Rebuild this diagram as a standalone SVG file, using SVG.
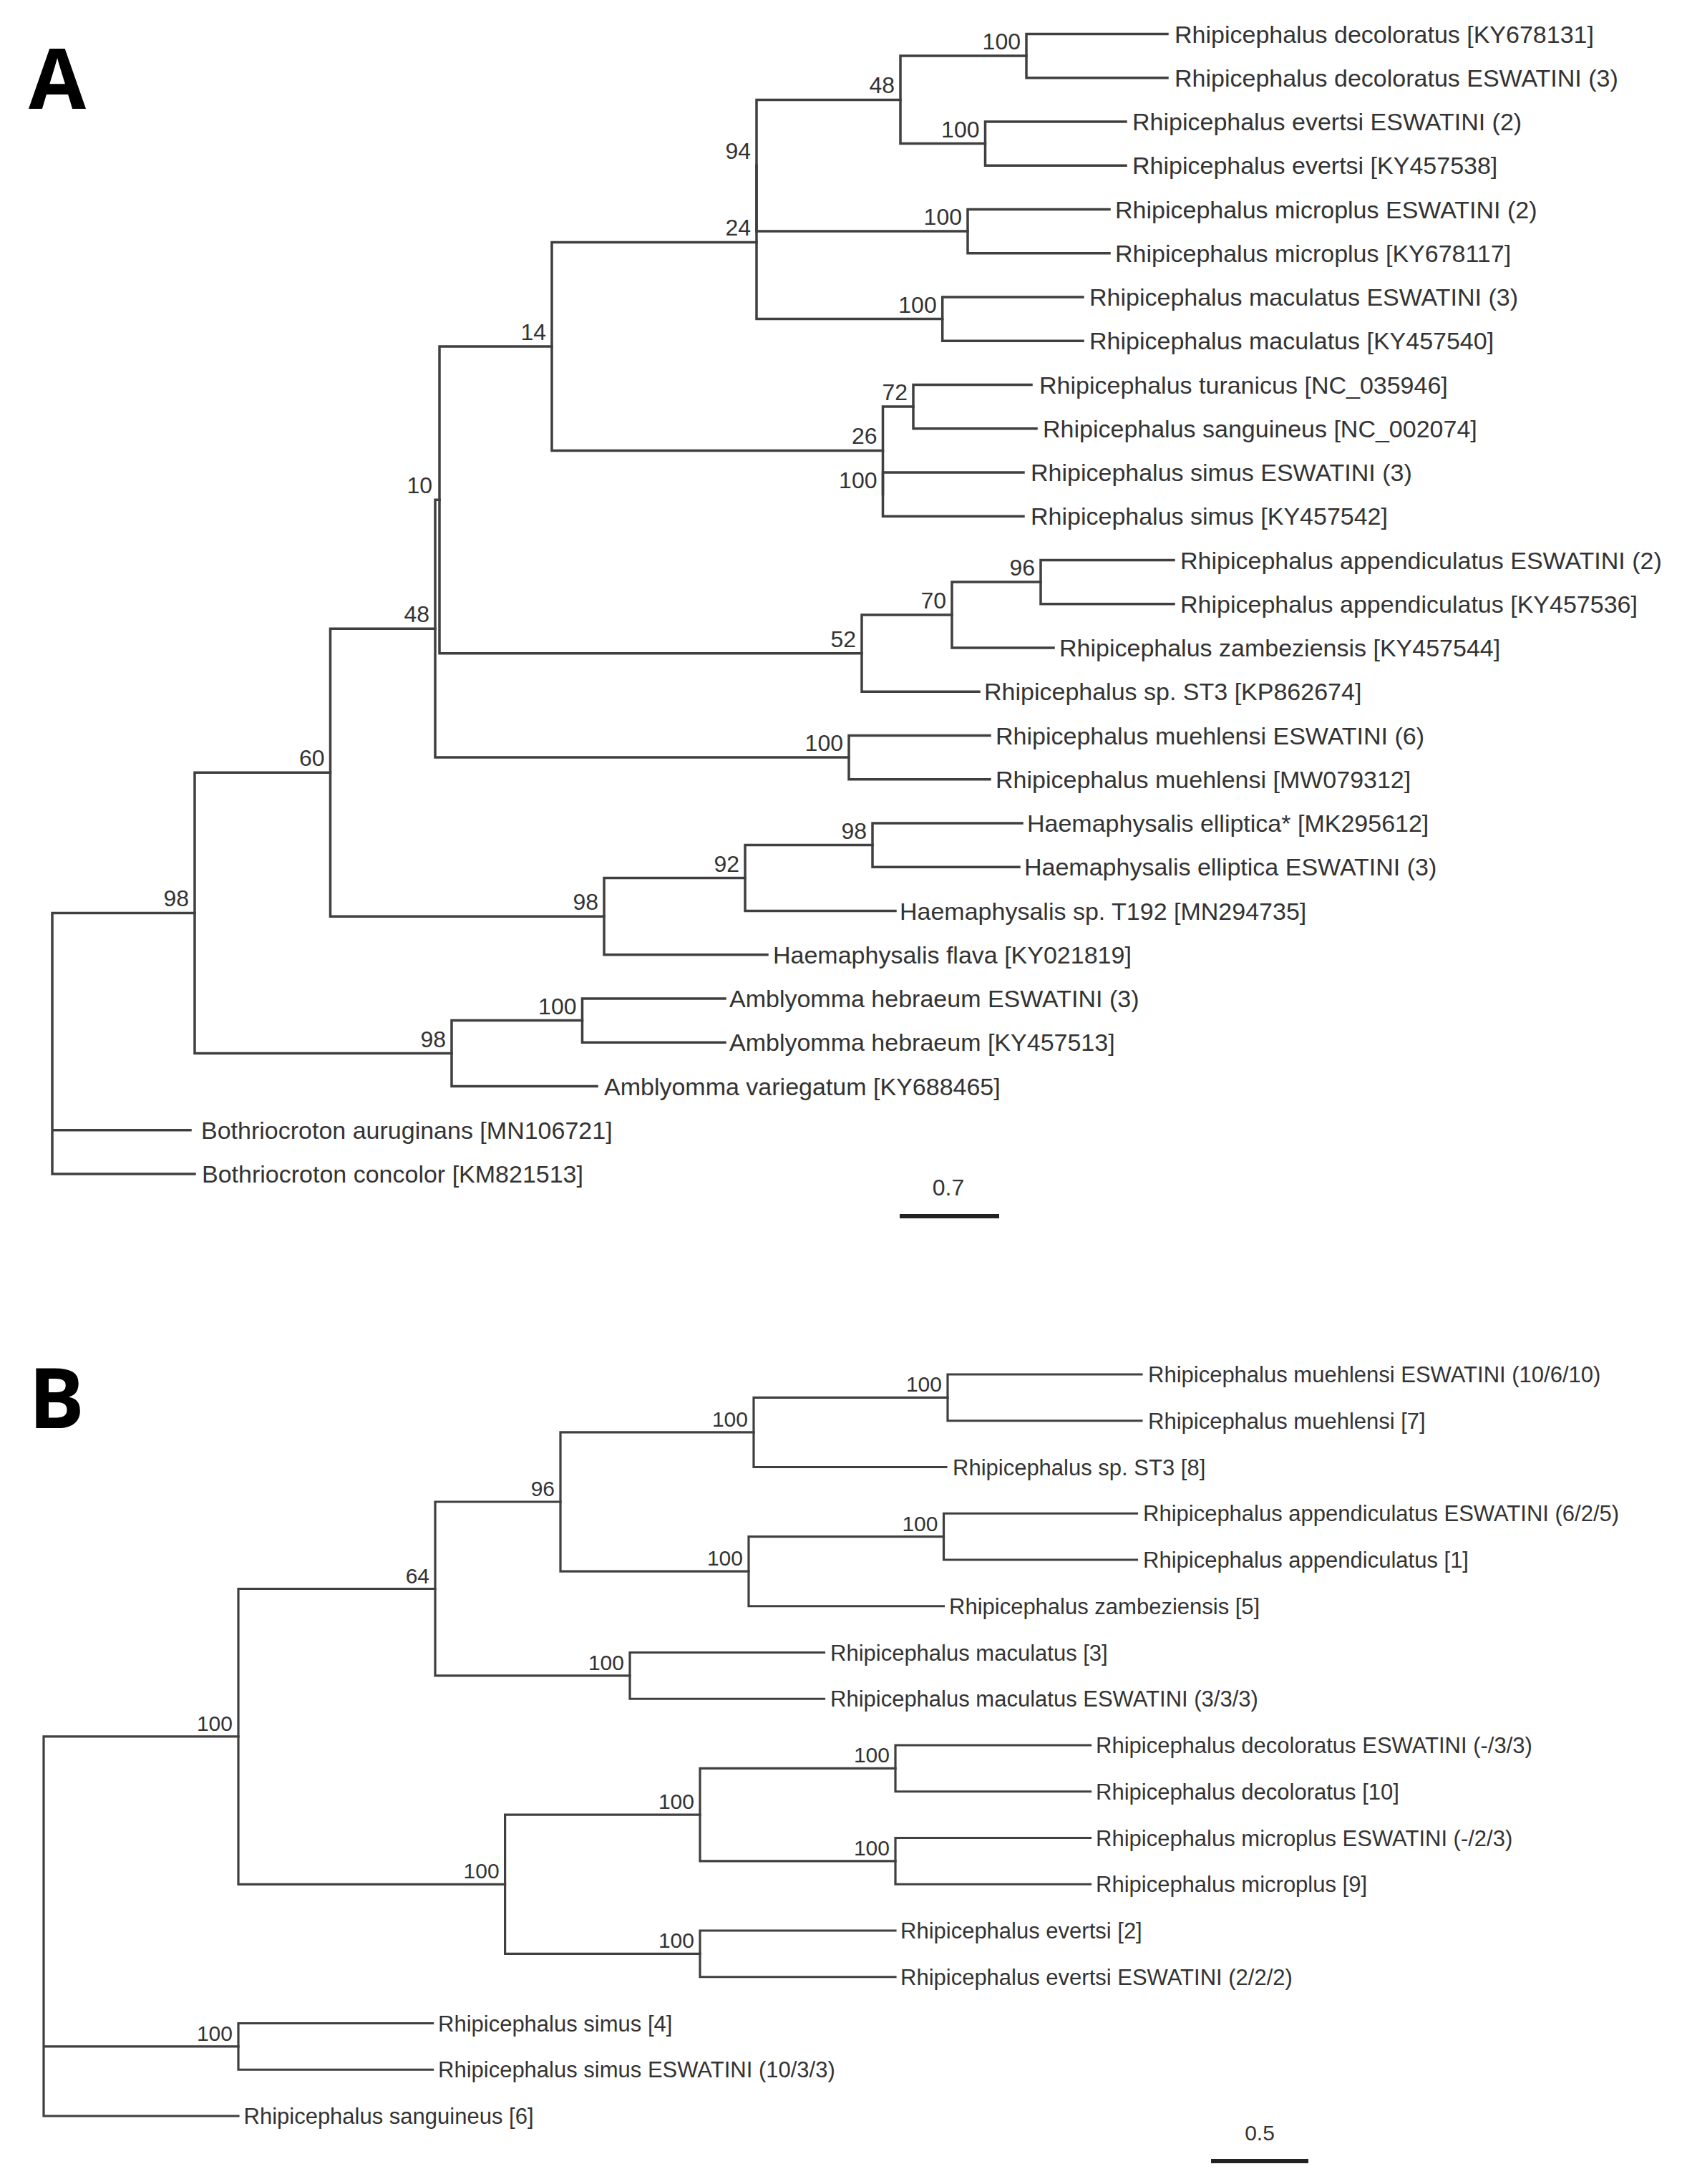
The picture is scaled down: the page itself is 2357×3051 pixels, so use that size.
<svg xmlns="http://www.w3.org/2000/svg" width="2357" height="3051" viewBox="0 0 2357 3051">
<style>
.br{fill:none;stroke:#3f3f3f;stroke-width:3.5;stroke-linecap:square;stroke-linejoin:miter}
.brb{fill:none;stroke:#3f3f3f;stroke-width:3.2;stroke-linecap:square;stroke-linejoin:miter}
.la{font-family:"Liberation Sans",Arial,sans-serif;font-size:34px;fill:#333}
.lb{font-family:"Liberation Sans",Arial,sans-serif;font-size:31px;fill:#333}
.bsa{font-family:"Liberation Sans",Arial,sans-serif;font-size:32px;fill:#333;text-anchor:end}
.bsb{font-family:"Liberation Sans",Arial,sans-serif;font-size:30px;fill:#333;text-anchor:end}
.sc{fill:none;stroke:#222;stroke-width:6}
.panel{font-family:"Open Sans","Liberation Sans",sans-serif;font-weight:700;font-size:116px;fill:#000}
</style>
<rect width="2357" height="3051" fill="#fff"/>
<text class="panel" x="40" y="152">A</text>
<text class="panel" x="40" y="1995">B</text>

<g id="connectors-A">
<path class="br" d="M1631 47.5 H1434 V108.75 H1631"/>
<path class="br" d="M1573 170 H1376.5 V231.25 H1573"/>
<path class="br" d="M1434 78.1 H1258 V200.6 H1376.5"/>
<path class="br" d="M1550 292.5 H1352 V353.75 H1550"/>
<path class="br" d="M1258 139.4 H1057 V323.1 H1352"/>
<path class="br" d="M1513 415 H1316.7 V476.25 H1513"/>
<path class="br" d="M1057 231.3 V445.6 H1316.7"/>
<path class="br" d="M1441 537.5 H1276 V598.75 H1448"/>
<path class="br" d="M1430 660 H1233.5 V721.25 H1430"/>
<path class="br" d="M1276 568.1 H1233.5 V690.6"/>
<path class="br" d="M1057 338.4 H771 V629.4 H1233.5"/>
<path class="br" d="M1640 782.5 H1454 V843.75 H1640"/>
<path class="br" d="M1454 813.1 H1330 V905 H1472"/>
<path class="br" d="M1330 859.1 H1204 V966.25 H1368"/>
<path class="br" d="M771 483.9 H614 V912.7 H1204"/>
<path class="br" d="M1383 1027.5 H1186 V1088.75 H1383"/>
<path class="br" d="M614 698.3 H608 V1058.1 H1186"/>
<path class="br" d="M1428 1150 H1219 V1211.25 H1424"/>
<path class="br" d="M1219 1180.6 H1041 V1272.5 H1251"/>
<path class="br" d="M1041 1226.6 H844 V1333.75 H1072"/>
<path class="br" d="M608 878.2 H461.5 V1280.2 H844"/>
<path class="br" d="M1013 1395 H813.5 V1456.25 H1013"/>
<path class="br" d="M813.5 1425.6 H631 V1517.5 H834"/>
<path class="br" d="M461.5 1079.2 H272 V1471.6 H631"/>
<path class="br" d="M272 1275.4 H73 V1640 H272 M73 1578.75 H266"/>
<path class="sc" d="M1257 1699 H1396"/>
</g>

<g id="connectors-B">
<path class="brb" d="M1595 1920 H1324 V1984.75 H1595"/>
<path class="brb" d="M1324 1952.4 H1053 V2049.5 H1322"/>
<path class="brb" d="M1588.5 2114.25 H1318.5 V2179 H1588.5"/>
<path class="brb" d="M1318.5 2146.6 H1046 V2243.75 H1318.5"/>
<path class="brb" d="M1053 2000.9 H783 V2195.2 H1046"/>
<path class="brb" d="M1151.5 2308.5 H880 V2373.25 H1151.5"/>
<path class="brb" d="M783 2098 H608 V2340.9 H880"/>
<path class="brb" d="M1523.6 2438 H1251 V2502.75 H1523.6"/>
<path class="brb" d="M1523.6 2567.5 H1251 V2632.25 H1523.6"/>
<path class="brb" d="M1251 2470.4 H978 V2599.9 H1251"/>
<path class="brb" d="M1251 2697 H978 V2761.75 H1251"/>
<path class="brb" d="M978 2535.1 H705.6 V2729.4 H978"/>
<path class="brb" d="M608 2219.5 H333 V2632.3 H705.6"/>
<path class="brb" d="M604.6 2826.5 H333 V2891.25 H604.6"/>
<path class="brb" d="M333 2425.9 H61 V2956 H333 M61 2858.9 H333"/>
<path class="sc" d="M1692 3019 H1828"/>
</g>

<g id="leaves-A" class="la">
<g id="a01"><text x="1641" y="59.5">Rhipicephalus decoloratus [KY678131]</text></g>
<g id="a02"><text x="1641" y="120.75">Rhipicephalus decoloratus ESWATINI (3)</text></g>
<g id="a03"><text x="1582" y="182">Rhipicephalus evertsi ESWATINI (2)</text></g>
<g id="a04"><text x="1582" y="243.25">Rhipicephalus evertsi [KY457538]</text></g>
<g id="a05"><text x="1558" y="304.5">Rhipicephalus microplus ESWATINI (2)</text></g>
<g id="a06"><text x="1558" y="365.75">Rhipicephalus microplus [KY678117]</text></g>
<g id="a07"><text x="1522" y="427">Rhipicephalus maculatus ESWATINI (3)</text></g>
<g id="a08"><text x="1522" y="488.25">Rhipicephalus maculatus [KY457540]</text></g>
<g id="a09"><text x="1452" y="549.5">Rhipicephalus turanicus [NC_035946]</text></g>
<g id="a10"><text x="1457" y="610.75">Rhipicephalus sanguineus [NC_002074]</text></g>
<g id="a11"><text x="1440" y="672">Rhipicephalus simus ESWATINI (3)</text></g>
<g id="a12"><text x="1440" y="733.25">Rhipicephalus simus [KY457542]</text></g>
<g id="a13"><text x="1649" y="794.5">Rhipicephalus appendiculatus ESWATINI (2)</text></g>
<g id="a14"><text x="1649" y="855.75">Rhipicephalus appendiculatus [KY457536]</text></g>
<g id="a15"><text x="1480" y="917">Rhipicephalus zambeziensis [KY457544]</text></g>
<g id="a16"><text x="1375" y="978.25">Rhipicephalus sp. ST3 [KP862674]</text></g>
<g id="a17"><text x="1391" y="1039.5">Rhipicephalus muehlensi ESWATINI (6)</text></g>
<g id="a18"><text x="1391" y="1100.75">Rhipicephalus muehlensi [MW079312]</text></g>
<g id="a19"><text x="1435" y="1162">Haemaphysalis elliptica* [MK295612]</text></g>
<g id="a20"><text x="1431" y="1223.25">Haemaphysalis elliptica ESWATINI (3)</text></g>
<g id="a21"><text x="1257" y="1284.5">Haemaphysalis sp. T192 [MN294735]</text></g>
<g id="a22"><text x="1080" y="1345.75">Haemaphysalis flava [KY021819]</text></g>
<g id="a23"><text x="1019" y="1407">Amblyomma hebraeum ESWATINI (3)</text></g>
<g id="a24"><text x="1019" y="1468.25">Amblyomma hebraeum [KY457513]</text></g>
<g id="a25"><text x="844" y="1529.5">Amblyomma variegatum [KY688465]</text></g>
<g id="a26"><text x="281" y="1590.75">Bothriocroton auruginans [MN106721]</text></g>
<g id="a27"><text x="282" y="1652">Bothriocroton concolor [KM821513]</text></g>
</g>

<g id="support-A" class="bsa">
<text x="1426" y="69">100</text>
<text x="1250" y="130">48</text>
<text x="1368.5" y="191.6">100</text>
<text x="1344" y="314">100</text>
<text x="1049" y="222.3">94</text>
<text x="1308.7" y="436.6">100</text>
<text x="1049" y="329.4">24</text>
<text x="1268" y="559">72</text>
<text x="1225.5" y="620.4">26</text>
<text x="1225.5" y="681.6">100</text>
<text x="763" y="475">14</text>
<text x="1446" y="804">96</text>
<text x="1322" y="850">70</text>
<text x="1196" y="903.7">52</text>
<text x="604" y="689">10</text>
<text x="1178" y="1049">100</text>
<text x="600" y="869">48</text>
<text x="1211" y="1171.6">98</text>
<text x="1033" y="1217.6">92</text>
<text x="836" y="1271">98</text>
<text x="453.5" y="1070">60</text>
<text x="805.5" y="1416.6">100</text>
<text x="623" y="1462.6">98</text>
<text x="264" y="1266.4">98</text>
</g>
<g id="scale-A"><text x="1325" y="1670" style="font-family:'Liberation Sans',Arial,sans-serif;font-size:32px;fill:#333;text-anchor:middle">0.7</text></g>

<g id="leaves-B" class="lb">
<g id="b01"><text x="1604" y="1931">Rhipicephalus muehlensi ESWATINI (10/6/10)</text></g>
<g id="b02"><text x="1604" y="1995.75">Rhipicephalus muehlensi [7]</text></g>
<g id="b03"><text x="1331" y="2060.5">Rhipicephalus sp. ST3 [8]</text></g>
<g id="b04"><text x="1597" y="2125.25">Rhipicephalus appendiculatus ESWATINI (6/2/5)</text></g>
<g id="b05"><text x="1597" y="2190">Rhipicephalus appendiculatus [1]</text></g>
<g id="b06"><text x="1326" y="2254.75">Rhipicephalus zambeziensis [5]</text></g>
<g id="b07"><text x="1160" y="2319.5">Rhipicephalus maculatus [3]</text></g>
<g id="b08"><text x="1160" y="2384.25">Rhipicephalus maculatus ESWATINI (3/3/3)</text></g>
<g id="b09"><text x="1531" y="2449">Rhipicephalus decoloratus ESWATINI (-/3/3)</text></g>
<g id="b10"><text x="1531" y="2513.75">Rhipicephalus decoloratus [10]</text></g>
<g id="b11"><text x="1531" y="2578.5">Rhipicephalus microplus ESWATINI (-/2/3)</text></g>
<g id="b12"><text x="1531" y="2643.25">Rhipicephalus microplus [9]</text></g>
<g id="b13"><text x="1258" y="2708">Rhipicephalus evertsi [2]</text></g>
<g id="b14"><text x="1258" y="2772.75">Rhipicephalus evertsi ESWATINI (2/2/2)</text></g>
<g id="b15"><text x="612" y="2837.5">Rhipicephalus simus [4]</text></g>
<g id="b16"><text x="612" y="2902.25">Rhipicephalus simus ESWATINI (10/3/3)</text></g>
<g id="b17"><text x="340.5" y="2967">Rhipicephalus sanguineus [6]</text></g>
</g>

<g id="support-B" class="bsb">
<text x="1316" y="1944.4">100</text>
<text x="1045" y="1992.9">100</text>
<text x="775" y="2090">96</text>
<text x="1310.5" y="2138.6">100</text>
<text x="1038" y="2187.2">100</text>
<text x="600" y="2211.5">64</text>
<text x="872" y="2332.9">100</text>
<text x="325" y="2417.9">100</text>
<text x="1243" y="2462.4">100</text>
<text x="970" y="2527.1">100</text>
<text x="1243" y="2591.9">100</text>
<text x="697.6" y="2624.3">100</text>
<text x="970" y="2721.4">100</text>
<text x="325" y="2850.9">100</text>
</g>
<g id="scale-B"><text x="1760" y="2990" style="font-family:'Liberation Sans',Arial,sans-serif;font-size:30px;fill:#333;text-anchor:middle">0.5</text></g>
</svg>
